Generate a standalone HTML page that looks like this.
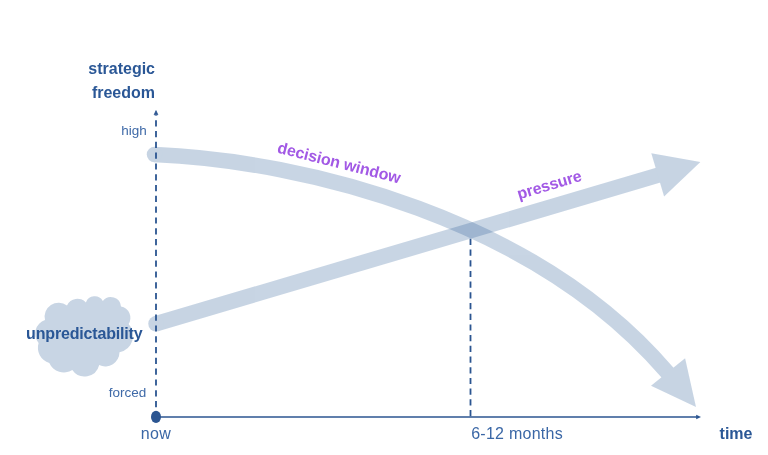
<!DOCTYPE html>
<html>
<head>
<meta charset="utf-8">
<title>decision window</title>
<style>
html,body{margin:0;padding:0;background:#fff;}
body{width:768px;height:455px;overflow:hidden;}
svg{display:block;}
text{font-family:"Liberation Sans",sans-serif;}
.b{font-weight:bold;fill:#2a5796;font-size:16px;}
.l{fill:#3f6aa8;font-size:13.5px;}
.a{fill:#3a67a6;font-size:16px;}
.p{font-weight:bold;fill:#a259e5;font-size:16px;}
</style>
</head>
<body>
<svg width="768" height="455" viewBox="0 0 768 455">
<rect width="768" height="455" fill="#fff"/>
<!-- cloud -->
<path fill="#c8d5e4" d="M45 320 A14 14 0 0 1 67 305.5 A11.5 11.5 0 0 1 85.9 302.4 A9.4 9.4 0 0 1 102.8 300.9 A10.2 10.2 0 0 1 121 306.5 A11.5 11.5 0 0 1 128.6 324 A17 17 0 0 1 119.5 352.2 A14.3 14.3 0 0 1 99.2 365.1 A15 15 0 0 1 72.3 370.1 A16 16 0 0 1 49.3 362.9 A15.9 15.9 0 0 1 38.6 342.9 A14.4 14.4 0 0 1 45 320 Z"/>
<!-- bands -->
<g opacity="0.25" fill="#235793" stroke="none">
<path d="M154.5 154.5 C305.3 160.8 536 219 667.2 372.3 L669.2 374.6" fill="none" stroke="#235793" stroke-width="15.5"/>
<circle cx="154.5" cy="154.5" r="7.75"/>
<path d="M685.1 358.2 L696 406.9 L651 385.7 Z"/>
</g>
<g opacity="0.25" fill="#235793" stroke="none">
<path d="M156 323.7 L660 174.6" fill="none" stroke="#235793" stroke-width="15.5"/>
<circle cx="156" cy="323.7" r="7.75"/>
<path d="M651.3 153.3 L700.4 161.9 L664.1 196.4 Z"/>
</g>
<!-- axes -->
<g stroke="#2b5591" stroke-width="1.5" fill="none">
<path d="M156 407.2 V115" stroke-dasharray="6.2 4.6" stroke-width="1.8"/>
<path d="M470.5 238.8 V417" stroke-dasharray="6.2 4.5" stroke-width="1.8"/>
<path d="M156 417 H697" stroke-width="1.6"/>
</g>
<path d="M156 110.6 L157.9 114.8 H154.1 Z" fill="#2b5591" stroke="#2b5591" stroke-width="0.7" stroke-linejoin="round"/>
<path d="M701 417 L696.2 414.7 V419.3 Z" fill="#2b5591"/>
<ellipse cx="156" cy="416.9" rx="5" ry="6.1" fill="#2b5591"/>
<!-- text -->
<text class="b" x="155" y="74.1" text-anchor="end">strategic</text>
<text class="b" x="155" y="98.1" text-anchor="end">freedom</text>
<text class="l" x="146.8" y="134.6" text-anchor="end">high</text>
<text class="l" x="146.2" y="397.1" text-anchor="end">forced</text>
<text class="b" x="26.1" y="338.9" letter-spacing="-0.17">unpredictability</text>
<text class="a" x="156" y="438.5" text-anchor="middle" letter-spacing="0.3">now</text>
<text class="a" x="471.2" y="438.6" letter-spacing="0.26">6-12 months</text>
<text class="b" x="719.6" y="439">time</text>
<text class="p" transform="translate(276.6 152.5) rotate(14.2)" letter-spacing="-0.12">decision window</text>
<text class="p" transform="translate(519.1 199.6) rotate(-16.8)" letter-spacing="-0.15">pressure</text>
</svg>
</body>
</html>
